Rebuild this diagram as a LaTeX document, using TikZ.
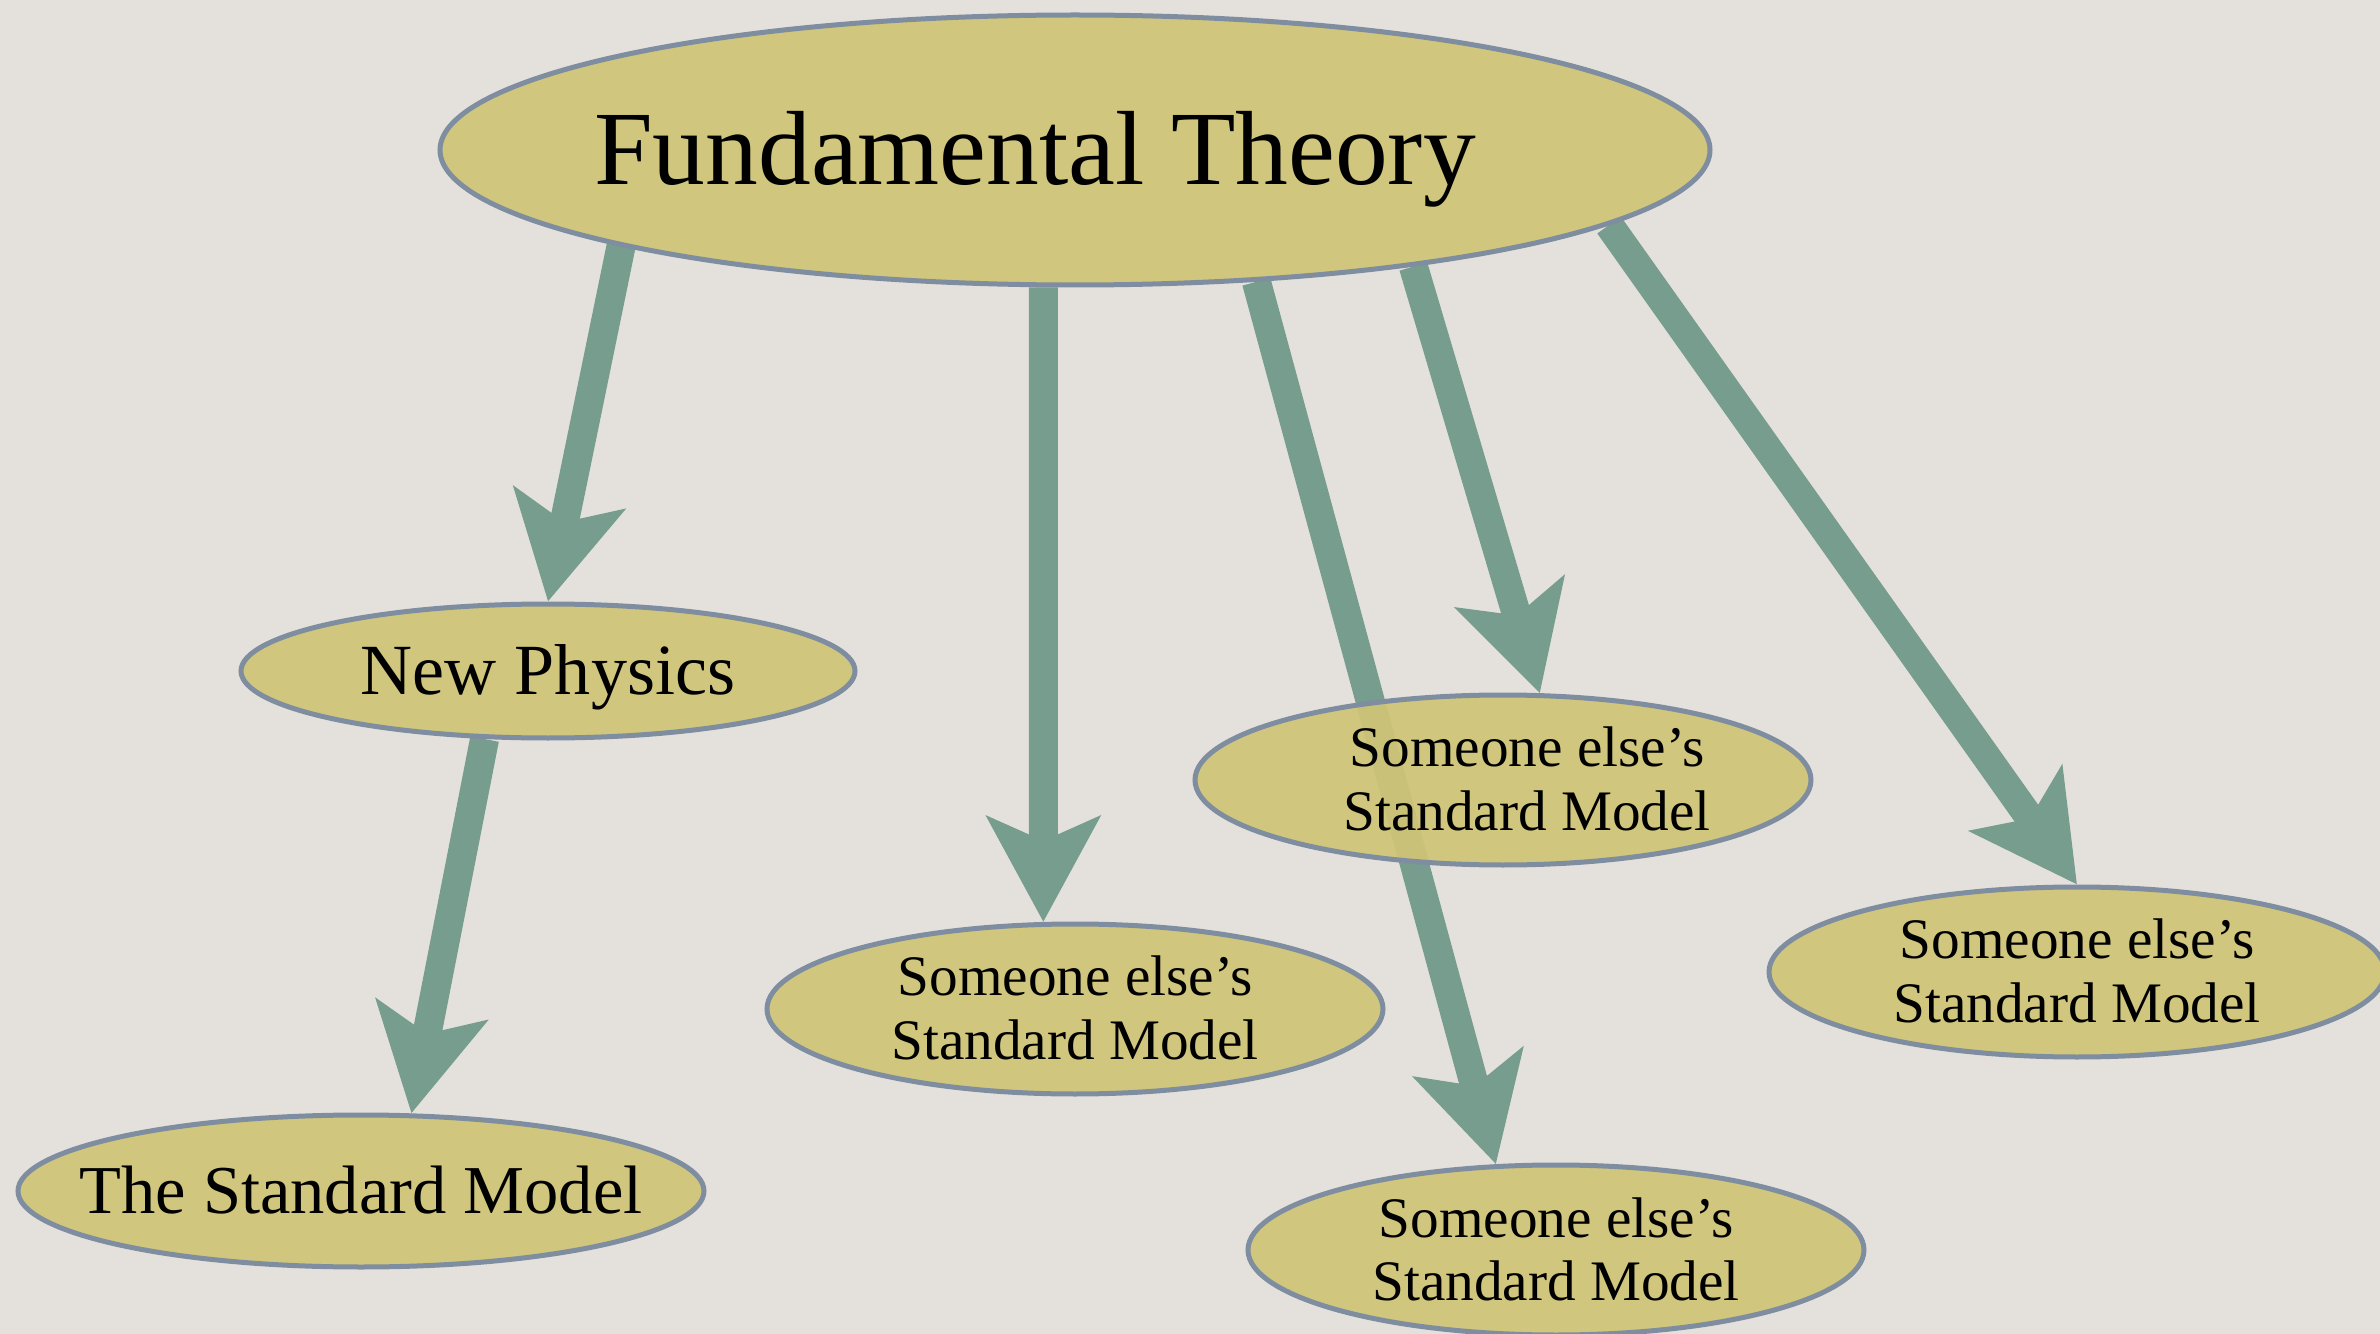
\documentclass[tikz,border=0pt]{standalone}
\usepackage{fontspec}
\setmainfont{Liberation Serif}
\usetikzlibrary{shapes.geometric,arrows.meta}
\definecolor{bgc}{HTML}{E4E1DD}
\definecolor{ellfill}{HTML}{CFC476}
\definecolor{ellline}{HTML}{7F8DA0}
\definecolor{arrc}{HTML}{769D8E}
\pgfdeclarelayer{bg}
\pgfdeclarelayer{arrowlayer}
\pgfsetlayers{bg,arrowlayer,main}
\begin{document}
\begin{tikzpicture}[
  oval/.style={ellipse, draw=ellline, line width=0.05cm, fill=ellfill, fill opacity=0.93, draw opacity=1, text opacity=1, inner ysep=0pt, inner xsep=-3cm, text=black},
  bigoval/.style={oval, minimum width=12.70cm, minimum height=2.70cm},
  midoval/.style={oval, minimum width=6.16cm, minimum height=1.70cm, align=center, font=\fontsize{16.3}{18.2}\selectfont, text height=29pt, text depth=0pt},
  conn/.style={draw=arrc, line width=0.29cm, -{Stealth[length=1.05cm,width=1.12cm,inset=0.24cm]}},
]
\begin{pgfonlayer}{bg}
\fill[bgc] (0,0) rectangle (23.8,-13.34);
\end{pgfonlayer}
\useasboundingbox (0,0) rectangle (23.8,-13.34);

\node[bigoval, font=\fontsize{30}{32}\selectfont, text height=19.6pt, text depth=0pt] (FT) at (10.75,-1.50) {Fundamental Theory\hspace*{0.8cm}};
\node[oval, minimum width=6.14cm, minimum height=1.34cm, font=\fontsize{20.5}{24}\selectfont, text height=13.4pt, text depth=0pt] (NP) at (5.48,-6.71) {New Physics};
\node[oval, minimum width=6.86cm, minimum height=1.52cm, font=\fontsize{19.5}{23}\selectfont, text height=12.8pt, text depth=0pt] (TSM) at (3.61,-11.91) {The Standard Model};
\node[midoval] (SE1) at (10.75,-10.09) {Someone else’s\\Standard Model};
\node[midoval] (SE2) at (15.03,-7.80) {\hspace*{0.48cm}Someone else’s\\\hspace*{0.48cm}Standard Model};
\node[midoval] (SE3) at (15.56,-12.50) {Someone else’s\\Standard Model};
\node[midoval] (SE4) at (20.77,-9.72) {Someone else’s\\Standard Model};

\begin{pgfonlayer}{arrowlayer}
\draw[conn] (FT.192.3) -- (NP.90);
\draw[conn] (NP.227.7) -- (TSM.57);
\draw[conn] (FT.257) -- (SE1.110.6);
\draw[conn] (FT.324.1) -- (SE3.125.1);
\draw[conn] (FT.341.2) -- (SE2.67.1);
\draw[conn] (FT.352.2) -- (SE4.north);
\end{pgfonlayer}
\end{tikzpicture}
\end{document}
